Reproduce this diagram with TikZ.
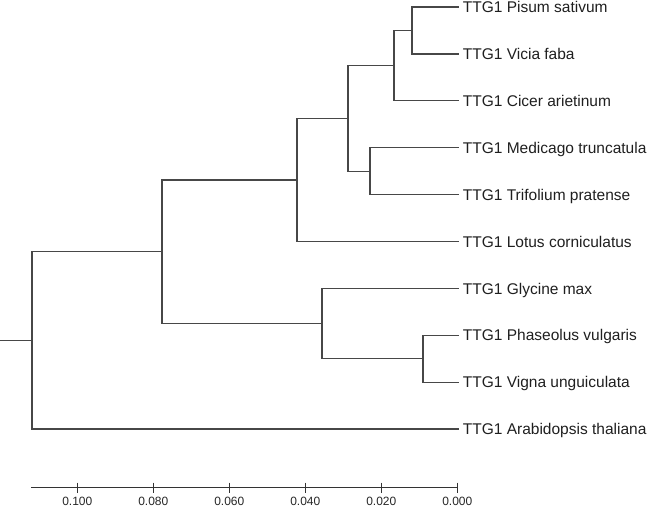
\documentclass[tikz,border=0pt]{standalone}
\usepackage{fontspec}
\setmainfont{Liberation Sans}
\begin{document}
\begin{tikzpicture}[x=1pt,y=-1pt,
  branch/.style={draw=black!72, line width=1.3pt, line cap=rect},
  leaflabel/.style={anchor=base west, inner sep=0pt, font=\fontsize{15.5}{18}\selectfont, text=black!88},
  axisline/.style={draw=black!80, line width=1.3pt},
  ticklabel/.style={anchor=north, inner sep=0pt, font=\fontsize{12}{14}\selectfont, text=black!85}]
\useasboundingbox (0,0) rectangle (650,508);
% leaves
\coordinate (L1) at (458,7);
\coordinate (L2) at (458,53.9);
\coordinate (L3) at (458,100.8);
\coordinate (L4) at (458,147.7);
\coordinate (L5) at (458,194.6);
\coordinate (L6) at (458,241.5);
\coordinate (L7) at (458,288.4);
\coordinate (L8) at (458,335.3);
\coordinate (L9) at (458,382.2);
\coordinate (L10) at (458,429.1);
% internal nodes
\coordinate (A) at (412,30.45);
\coordinate (B) at (394,65.6);
\coordinate (C) at (370,171.15);
\coordinate (D) at (348,118.4);
\coordinate (E) at (297,179.95);
\coordinate (F) at (423,358.75);
\coordinate (G) at (322,323.6);
\coordinate (H) at (162,251.8);
\coordinate (R) at (32,340.45);
\coordinate (R0) at (0,340.45);
% tree
\draw[branch] (L1) -| (A) |- (L2);
\draw[branch] (A) -| (B) |- (L3);
\draw[branch] (L4) -| (C) |- (L5);
\draw[branch] (B) -| (D) |- (C);
\draw[branch] (D) -| (E) |- (L6);
\draw[branch] (L8) -| (F) |- (L9);
\draw[branch] (L7) -| (G) |- (F);
\draw[branch] (E) -| (H) |- (G);
\draw[branch] (H) -| (R) |- (L10);
\draw[branch] (R0) -- (R);
% labels
\foreach \i/\t in {1/Pisum sativum,2/Vicia faba,3/Cicer arietinum,4/Medicago truncatula,5/Trifolium pratense,6/Lotus corniculatus,7/Glycine max,8/Phaseolus vulgaris,9/Vigna unguiculata,10/Arabidopsis thaliana}
  \node[leaflabel] (N\i) at ([xshift=4.7pt,yshift=-5.6pt]L\i) {TTG1 \t};
% scale axis
\coordinate (S0) at (31,487.5);
\coordinate (S1) at (457.3,487.5);
\draw[axisline] (S0) -- (S1);
\foreach \k/\v in {0/0.100,1/0.080,2/0.060,3/0.040,4/0.020,5/0.000}{
  \draw[axisline] (77.3+76*\k,482.5) -- (77.3+76*\k,492.5);
  \node[ticklabel] (T\k) at (77.3+76*\k,497.3) {\v};
}
\end{tikzpicture}
\end{document}
